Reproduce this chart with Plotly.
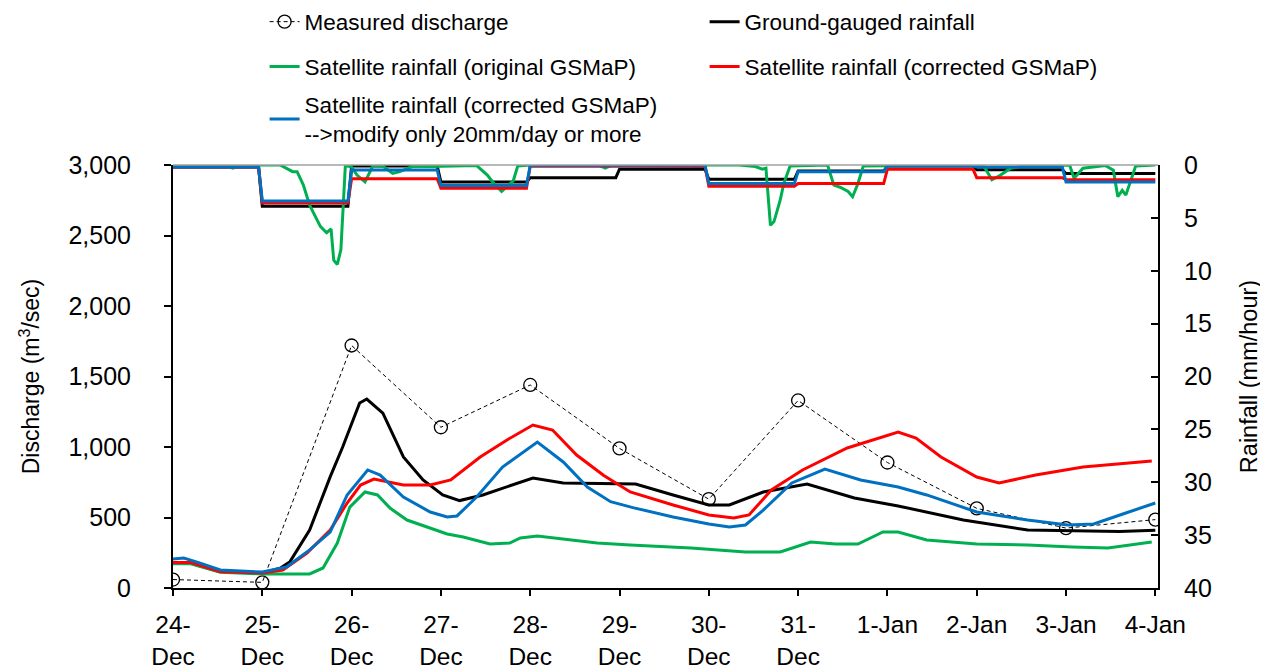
import plotly.graph_objects as go

# ---------------- data (x in days from 24-Dec 00:00) ----------------
tick_days = [0, 1, 2, 3, 4, 5, 6, 7, 8, 9, 10, 11]
tick_labels = ["24-<br>Dec", "25-<br>Dec", "26-<br>Dec", "27-<br>Dec", "28-<br>Dec", "29-<br>Dec",
               "30-<br>Dec", "31-<br>Dec", "1-Jan", "2-Jan", "3-Jan", "4-Jan"]

measured_days = [0, 1, 2, 3, 4, 5, 6, 7, 8, 9, 10, 11]
measured_q = [60, 40, 1720, 1140, 1440, 990, 630, 1330, 890, 565, 425, 485]

ground_days = [0.0, 0.2, 0.5, 1.0, 1.2, 1.31, 1.53, 1.76, 1.9, 2.09, 2.17, 2.35, 2.58, 2.8, 3.02, 3.21,
               3.47, 3.74, 4.03, 4.37, 5.18, 5.6, 6.0, 6.23, 6.61, 7.1, 7.63, 8.12, 8.85, 9.57, 10.6, 11.0]
ground_q = [175, 175, 120, 105, 140, 187, 411, 788, 1000, 1312, 1340, 1240, 930, 766, 660, 620,
            660, 716, 780, 745, 738, 660, 589, 589, 681, 738, 638, 582, 482, 411, 400, 410]

orig_days = [0.0, 0.2, 0.53, 1.0, 1.23, 1.53, 1.68, 1.84, 1.98, 2.15, 2.29, 2.43, 2.62, 2.88, 3.07,
             3.25, 3.55, 3.77, 3.89, 4.08, 4.37, 4.75, 5.12, 5.8, 6.41, 6.8, 7.14, 7.42, 7.67,
             7.95, 8.12, 8.44, 9.0, 9.57, 10.07, 10.47, 10.96]
orig_q = [172, 172, 112, 100, 100, 100, 142, 319, 574, 681, 660, 567, 482, 425, 383,
          362, 312, 319, 355, 369, 347, 319, 305, 284, 255, 255, 326, 312, 312,
          397, 397, 340, 312, 305, 291, 284, 326]

corr_days = [0.0, 0.2, 0.53, 1.0, 1.23, 1.5, 1.76, 1.95, 2.1, 2.25, 2.58, 2.88, 3.11, 3.44, 3.74,
             4.03, 4.25, 4.52, 4.82, 5.12, 5.6, 6.0, 6.28, 6.45, 6.7, 7.05, 7.55, 8.12, 8.32,
             8.6, 9.0, 9.25, 9.66, 10.19, 10.96]
corr_q = [180, 180, 116, 106, 128, 248, 411, 603, 730, 773, 730, 730, 766, 929, 1050,
          1156, 1120, 943, 800, 681, 589, 518, 496, 518, 695, 837, 993, 1106, 1064,
          929, 787, 745, 801, 858, 900]

c20_days = [0.0, 0.12, 0.27, 0.53, 1.0, 1.27, 1.53, 1.76, 1.95, 2.18, 2.32, 2.58, 2.88, 3.07, 3.18,
            3.4, 3.69, 4.08, 4.37, 4.64, 4.9, 5.15, 5.6, 6.0, 6.23, 6.41, 6.61, 6.93, 7.3, 7.7,
            8.12, 8.44, 9.0, 9.57, 10.02, 10.31, 10.67, 11.0]
c20_q = [206, 213, 184, 128, 113, 149, 270, 397, 660, 837, 801, 645, 539, 504, 511,
         645, 858, 1035, 894, 716, 612, 570, 504, 454, 433, 447, 553, 745, 844, 766,
         716, 660, 539, 482, 447, 454, 532, 603]

# daily rainfall (mm/hour) for 24-Dec ... 3-Jan
rain_day_start = [0, 1, 2, 3, 4, 5, 6, 7, 8, 9, 10]
rain_ground = [0.2, 3.9, 0.1, 1.6, 1.2, 0.4, 1.35, 0.57, 0.1, 0.45, 0.8]
rain_corr = [0.2, 3.6, 1.3, 2.2, 0.1, 0.15, 2.0, 1.75, 0.4, 1.2, 1.4]
rain_c20 = [0.2, 3.4, 0.47, 1.95, 0.05, 0.05, 1.75, 0.63, 0.1, 0.2, 1.6]

# original GSMaP rainfall (hourly shape)
rain_orig_days = [0.0, 0.58, 0.67, 0.76, 1.2, 1.34, 1.39, 1.46, 1.53, 1.65, 1.72, 1.77, 1.8, 1.84,
                  1.88, 1.93, 2.0, 2.06, 2.15, 2.18, 2.24, 2.35, 2.46, 2.54, 2.69, 2.88, 3.4, 3.52,
                  3.58, 3.68, 3.77, 3.81, 3.86, 4.0, 4.76, 4.84, 4.92, 6.34, 6.52, 6.6, 6.64, 6.69,
                  6.73, 6.8, 6.84, 6.91, 7.33, 7.4, 7.47, 7.56, 7.61, 7.67, 7.73, 8.99, 9.08, 9.17,
                  9.26, 9.38, 9.52, 10.04, 10.09, 10.19, 10.44, 10.53, 10.58, 10.63, 10.67, 10.78, 11.0]
rain_orig = [0, 0, 0.3, 0, 0, 0.63, 0.63, 1.9, 3.8, 5.8, 6.4, 6.05, 9.0, 9.4,
             8.0, 0.05, 0.2, 0.95, 1.6, 1.1, 0.05, 0.1, 0.8, 0.63, 0.1, 0.15, 0.05, 0.95,
             1.6, 2.5, 1.75, 1.5, 0.1, 0, 0, 0.3, 0, 0, 0.15, 0.4, 0.3, 5.7,
             5.35, 3.3, 1.75, 0.1, 0, 1.9, 2.1, 2.5, 3.0, 1.75, 0.1, 0, 0.1, 1.4,
             1.0, 0.3, 0.1, 0, 1.25, 0.3, 0.05, 0.5, 3.0, 2.4, 2.85, 0.1, 0]

GREEN = "#00B050"
RED = "#FF0000"
BLUE = "#0070C0"
FONT = "Liberation Sans, Arial, sans-serif"


def steps(starts, vals, end=11.0, ramp=1 / 24):
    xs, ys = [], []
    for i, (s, v) in enumerate(zip(starts, vals)):
        e = starts[i + 1] - ramp if i + 1 < len(starts) else end
        xs += [s, e]
        ys += [v, v]
    return xs, ys


fig = go.Figure()

# discharge (left axis)
fig.add_trace(go.Scatter(x=measured_days, y=measured_q, name="Measured discharge", mode="lines+markers",
                         line=dict(color="black", width=1, dash="4px,3px"),
                         marker=dict(symbol="circle-open", size=13, color="black", line=dict(width=1.3)),
                         legend="legend"))
fig.add_trace(go.Scatter(x=ground_days, y=ground_q, name="Ground-gauged rainfall", mode="lines",
                         line=dict(color="black", width=3), legend="legend"))
fig.add_trace(go.Scatter(x=orig_days, y=orig_q, name="Satellite rainfall (original GSMaP)", mode="lines",
                         line=dict(color=GREEN, width=3), legend="legend2"))
fig.add_trace(go.Scatter(x=corr_days, y=corr_q, name="Satellite rainfall (corrected GSMaP)", mode="lines",
                         line=dict(color=RED, width=3), legend="legend2"))
fig.add_trace(go.Scatter(x=c20_days, y=c20_q,
                         name="Satellite rainfall (corrected GSMaP)<br>-->modify only 20mm/day or more",
                         mode="lines", line=dict(color=BLUE, width=3), legend="legend3"))

# rainfall (right axis, reversed)
gx, gy = steps(rain_day_start, rain_ground)
fig.add_trace(go.Scatter(x=gx, y=gy, yaxis="y2", mode="lines", line=dict(color="black", width=3),
                         showlegend=False))
fig.add_trace(go.Scatter(x=rain_orig_days, y=rain_orig, yaxis="y2", mode="lines",
                         line=dict(color=GREEN, width=3), showlegend=False))
cx, cy = steps(rain_day_start, rain_corr)
fig.add_trace(go.Scatter(x=cx, y=cy, yaxis="y2", mode="lines", line=dict(color=RED, width=3),
                         showlegend=False))
bx, by = steps(rain_day_start, rain_c20)
fig.add_trace(go.Scatter(x=bx, y=by, yaxis="y2", mode="lines", line=dict(color=BLUE, width=3),
                         showlegend=False))

leg_common = dict(orientation="h", xanchor="left", yanchor="middle", entrywidth=395,
                  font=dict(family=FONT, size=22.5, color="black"), bgcolor="rgba(0,0,0,0)",
                  itemwidth=30)

fig.update_layout(
    width=1268, height=669,
    margin=dict(l=165, r=118, t=157, b=89, autoexpand=False),
    plot_bgcolor="white", paper_bgcolor="white",
    font=dict(family=FONT, size=25, color="black"),
    showlegend=True,
    legend=dict(x=0.093, y=1.338, **leg_common),
    legend2=dict(x=0.093, y=1.232, **leg_common),
    legend3=dict(x=0.093, y=1.108, **leg_common),
    xaxis=dict(range=[0, 11.03], tickmode="array", tickvals=tick_days, ticktext=tick_labels,
               showgrid=False, zeroline=False, showline=True, linecolor="black", linewidth=2,
               ticks="outside", ticklen=6, tickwidth=1.5, tickcolor="black", ticklabelstandoff=8,
               tickfont=dict(family=FONT, size=24.5), automargin=False),
    yaxis=dict(range=[0, 3000], dtick=500, tickformat=",", showgrid=False, zeroline=False,
               showline=True, linecolor="black", linewidth=2, ticks="outside", ticklen=7,
               tickwidth=1.5, tickcolor="black", tickfont=dict(family=FONT, size=25),
               ticklabelstandoff=28, automargin=False,
               title=dict(text="Discharge (m<sup>3</sup>/sec)", font=dict(family=FONT, size=23),
                          standoff=22)),
    yaxis2=dict(range=[40, 0], dtick=5, overlaying="y", side="right", showgrid=False, zeroline=False,
                showline=True, linecolor="black", linewidth=2, ticks="inside", ticklen=7,
                tickwidth=1.5, tickcolor="black", tickfont=dict(family=FONT, size=25),
                ticklabelstandoff=19, automargin=False,
                title=dict(text="Rainfall (mm/hour)", font=dict(family=FONT, size=23.5), standoff=30)),
    shapes=[dict(type="line", xref="paper", yref="paper", x0=0, x1=1, y0=1, y1=1,
                 line=dict(color="#A0A0A0", width=1.5))],
)

fig.write_html("out.html")
